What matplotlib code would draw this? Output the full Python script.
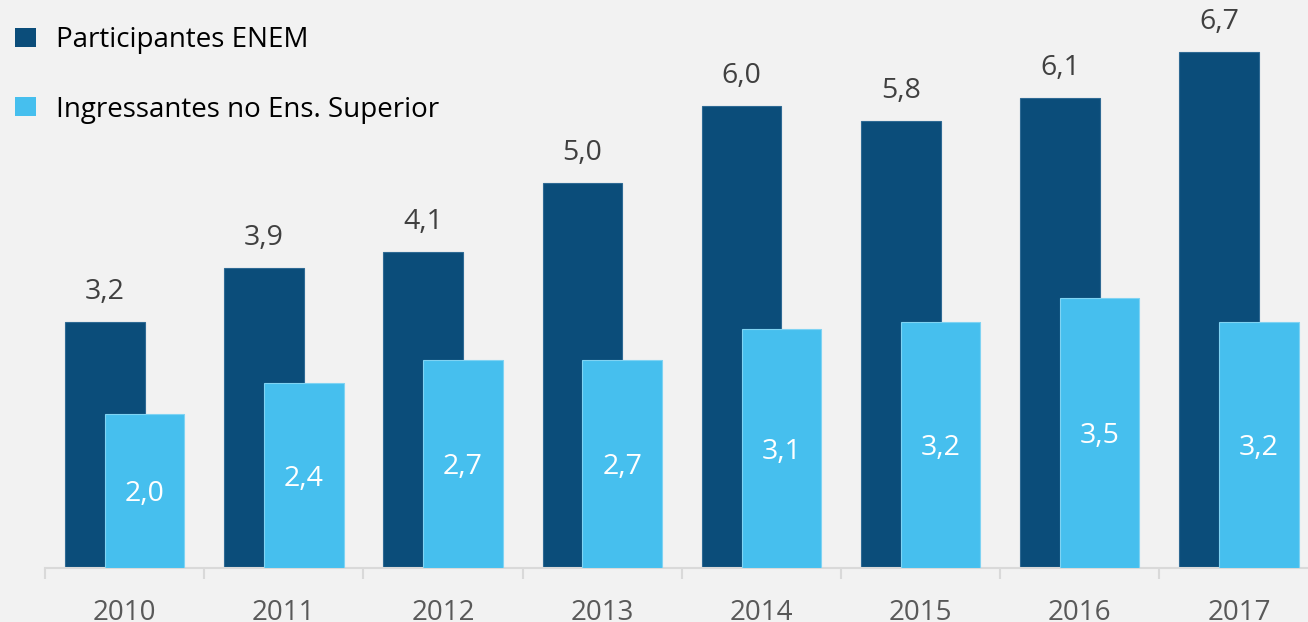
import matplotlib
matplotlib.use("Agg")
import matplotlib.pyplot as plt
import numpy as np

years = ["2010", "2011", "2012", "2013", "2014", "2015", "2016", "2017"]
participantes = [3.2, 3.9, 4.1, 5.0, 6.0, 5.8, 6.1, 6.7]
ingressantes = [2.0, 2.4, 2.7, 2.7, 3.1, 3.2, 3.5, 3.2]
series_names = ["Participantes ENEM", "Ingressantes no Ens. Superior"]

DARK = "#0b4d7a"
LIGHT = "#46bfee"
BG = "#f2f2f2"

plt.rcParams['font.family'] = ['Open Sans', 'DejaVu Sans']

W, H = 1308, 622
fig = plt.figure(figsize=(W / 100, H / 100), dpi=100, facecolor=BG)
base_px = 568
ax = fig.add_axes([45 / W, (H - base_px) / H, 1 - 45 / W, base_px / H])
ax.set_facecolor(BG)

x = np.arange(len(years))
width = 0.5
off = 0.125
b1 = ax.bar(x - off, participantes, width, color=DARK, edgecolor="#2f6a94", linewidth=0.8,
            label=series_names[0], zorder=2)
b2 = ax.bar(x + off, ingressantes, width, color=LIGHT, edgecolor="#7fd3f3", linewidth=0.8,
            label=series_names[1], zorder=3)

for s in ["top", "right", "left"]:
    ax.spines[s].set_visible(False)
ax.spines["bottom"].set_color("#d9d9d9")
ax.spines["bottom"].set_linewidth(1.5)
ax.set_yticks([])
ax.set_xticks(np.arange(len(years) + 1) - 0.5)
ax.set_xticklabels([])
ax.set_xticks(x, minor=True)
ax.set_xticklabels(years, minor=True, fontsize=20, color="#595959")
ax.tick_params(axis="x", which="major", length=8, width=1.5, color="#d9d9d9", direction="out")
ax.tick_params(axis="x", which="minor", length=0, pad=22)

ppu = 77.0
spacing = 159.2
ax.set_xlim(-0.5, -0.5 + (W - 45) / spacing)
ax.set_ylim(0, base_px / ppu)

for xi, v in zip(x, participantes):
    ax.annotate(f"{v:.1f}".replace(".", ","), (xi - off, v), xytext=(0, 30 * 0.72),
                textcoords="offset points", ha="center", va="center",
                fontsize=20.5, color="#404040")
for xi, v in zip(x, ingressantes):
    ax.annotate(f"{v:.1f}".replace(".", ","), (xi + off, v / 2), xytext=(0, -3 * 0.72),
                textcoords="offset points", ha="center", va="center",
                fontsize=20.5, color="white", zorder=4)

leg = ax.legend(handles=[b1, b2], loc="upper left", bbox_to_anchor=(15 / W, 1 - 26 / H),
                bbox_transform=fig.transFigure, frameon=False, fontsize=20,
                handlelength=0.76, handleheight=0.68, handletextpad=0.72,
                labelspacing=1.5, borderpad=0, borderaxespad=0)
for t in leg.get_texts():
    t.set_color("black")
for h in leg.legend_handles:
    h.set_edgecolor("none")

fig.savefig("out.png", dpi=100, facecolor=BG)
